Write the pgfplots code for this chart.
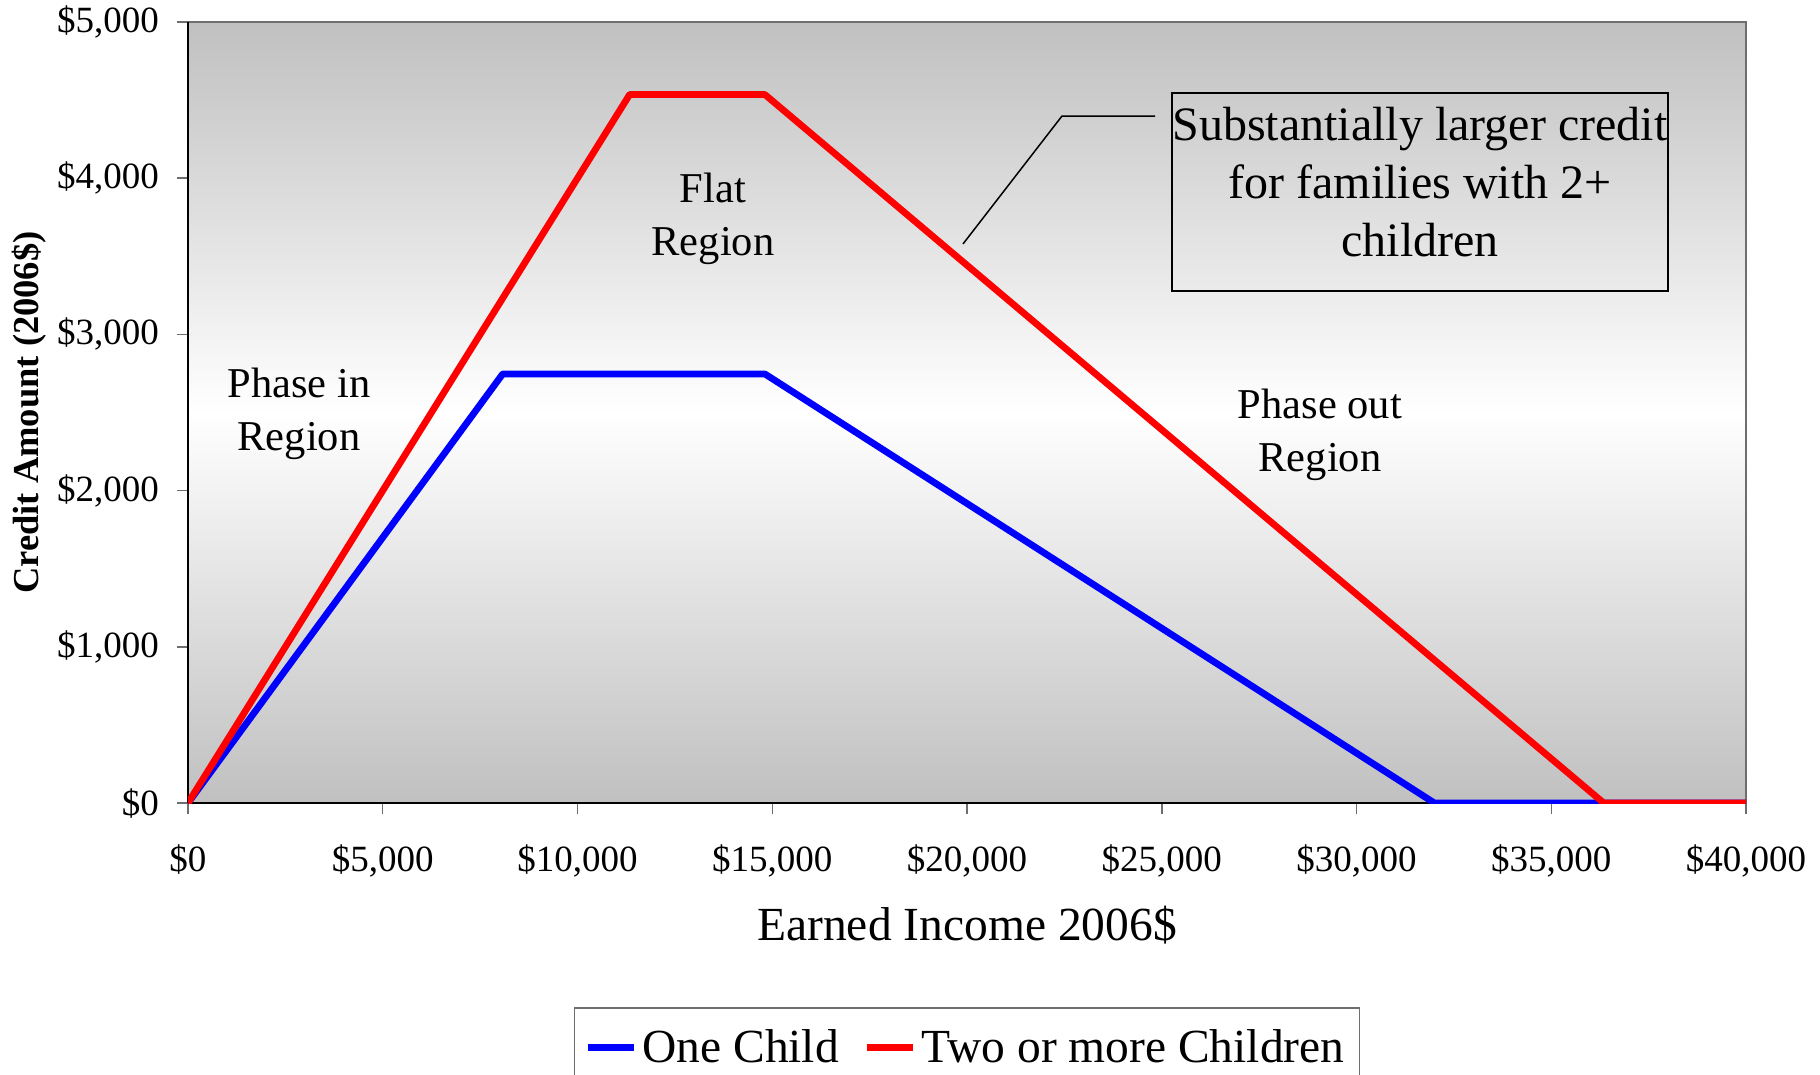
\documentclass[border=0pt]{standalone}
\usepackage{fontspec}
\setmainfont{Liberation Serif}
\usepackage{pgfplots}
\pgfplotsset{compat=1.18}
\definecolor{bg}{RGB}{192,192,192}
\definecolor{frame}{RGB}{110,110,110}
\begin{document}
\begin{tikzpicture}
\begin{axis}[
  at={(0,0)}, anchor=south west,
  scale only axis, width=623.2pt, height=312.4pt,
  xmin=0, xmax=40000, ymin=0, ymax=5000,
  xtick={0,5000,10000,15000,20000,25000,30000,35000,40000},
  ytick={0,1000,2000,3000,4000,5000},
  scaled ticks=false,
  /pgf/number format/.cd, fixed, 1000 sep={,}, assume math mode=true,
  /pgfplots/.cd,
  xticklabel={\$\pgfmathprintnumber{\tick}},
  yticklabel={\$\pgfmathprintnumber{\tick}},
  tick label style={font=\fontsize{14.8}{17}\selectfont},
  xticklabel style={yshift=-8.8pt},
  yticklabel style={xshift=-3.6pt},
  axis x line*=bottom, axis y line*=left,
  tick align=outside, major tick length=4.5pt,
  tick style={frame, line width=0.6pt},
  axis line style={black, line width=0.6pt, -},
  axis background/.style={shade, top color=bg, bottom color=bg, middle color=white, draw=frame, line width=0.6pt},
  xlabel={Earned Income 2006\$},
  ylabel={\textbf{Credit Amount (2006\$)}},
  xlabel style={font=\fontsize{19}{22}\selectfont, at={(axis description cs:0.5,-0.156)}, anchor=center},
  ylabel style={font=\fontsize{14.6}{17}\selectfont, at={(axis description cs:-0.102,0.5)}, anchor=center},
  legend style={at={(0.5,-0.2612)}, anchor=north, legend columns=2, draw=frame, line width=0.6pt,
    font=\fontsize{19}{22}\selectfont, inner xsep=4pt, inner ysep=6.6pt,
    /tikz/every even column/.append style={column sep=8pt}},
  legend image code/.code={\draw[#1, line width=2.7pt] (0pt,0pt) -- (18.4pt,0pt);},
]
\addplot[blue, line width=2.7pt, line join=round] coordinates {(0,0) (8080,2747) (14810,2747) (32001,0) (40000,0)};
\addlegendentry{One Child}
\addplot[red, line width=2.7pt, line join=round] coordinates {(0,0) (11340,4536) (14810,4536) (36348,0) (40000,0)};
\addlegendentry{Two or more Children}

\draw[black, line width=0.6pt] (axis cs:24827,4398) -- (axis cs:22438,4398) -- (axis cs:19897,3579);
\draw[black, line width=0.6pt] (axis cs:25263,3278) rectangle (axis cs:37997,4545);
\node[align=center, font=\fontsize{19.2}{23.2}\selectfont] at (axis cs:31630,3976) {Substantially larger credit\\for families with 2+\\children};
\node[align=center, font=\fontsize{17}{21.3}\selectfont] at (axis cs:2850,2490) {Phase in\\Region};
\node[align=center, font=\fontsize{17}{21.3}\selectfont] at (axis cs:13479,3740) {Flat\\Region};
\node[align=center, font=\fontsize{17}{21.3}\selectfont] at (axis cs:29063,2358) {Phase out\\Region};
\end{axis}
\pgfresetboundingbox
\path[use as bounding box] (-75.2pt,-108.4pt) rectangle (652.8pt,321.2pt);
\end{tikzpicture}
\end{document}
